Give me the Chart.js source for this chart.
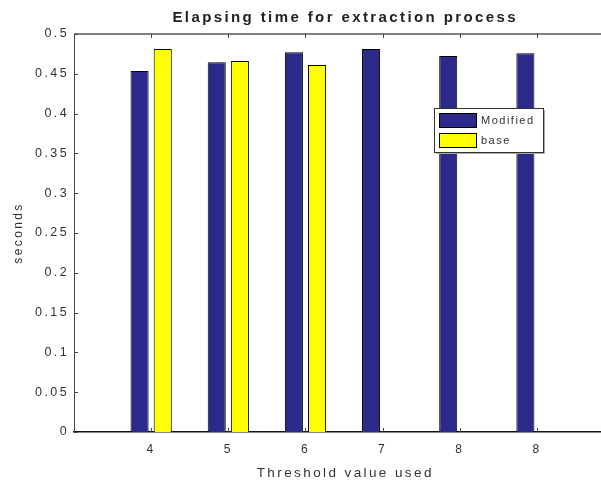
<!DOCTYPE html>
<html><head><meta charset="utf-8">
<script src="https://cdn.jsdelivr.net/npm/chart.js@4.4.1/dist/chart.umd.min.js"></script>
<style>html,body{margin:0;padding:0;background:#fff;overflow:hidden}canvas{display:block}</style>
</head><body>
<canvas id="c" width="601" height="484"></canvas>
<script>
const categories = ['4', '5', '6', '7', '8', '8'];
const modifiedValues = [0.4535, 0.4644, 0.477, 0.481, 0.4724, 0.4757];
const baseValues = [0.481, 0.466, 0.461, 0, 0, 0];
const yTickValues = [0, 0.05, 0.1, 0.15, 0.2, 0.25, 0.3, 0.35, 0.4, 0.45, 0.5];
const yTickLabels = ['0', '0.05', '0.1', '0.15', '0.2', '0.25', '0.3', '0.35', '0.4', '0.45', '0.5'];
const seriesNames = ['Modified', 'base'];
const seriesColors = ['#2b2a8a', '#ffff00'];
const titleText = 'Elapsing time for extraction process';
const xTitleText = 'Threshold value used';
const yTitleText = 'seconds';

const FONT = 'Arial, "Liberation Sans", sans-serif';
const TXT = '#333';

const toPoints = vals => vals.map((v, i) => ({ x: i + 1, y: v }));

const decor = {
  id: 'decor',
  beforeDraw(chart) { chart.ctx.letterSpacing = '2.4px'; },
  afterDraw(chart) {
    const { ctx, chartArea: a, scales } = chart;
    ctx.save();
    // centre of the full (cropped) axes: value 3.5 on the x scale
    const cx = scales.x.getPixelForValue(3.5);
    ctx.textAlign = 'center';
    ctx.textBaseline = 'middle';
    ctx.letterSpacing = '2.4px';
    ctx.fillStyle = '#222';
    ctx.font = 'bold 15px ' + FONT;
    ctx.fillText(titleText, cx + 1.2, 18);
    ctx.fillStyle = TXT;
    ctx.font = '13.5px ' + FONT;
    ctx.fillText(xTitleText, cx + 1.2, 473);
    ctx.letterSpacing = '0px';
    // top axis line
    ctx.strokeStyle = '#808080';
    ctx.lineWidth = 2;
    ctx.beginPath(); ctx.moveTo(a.left, a.top); ctx.lineTo(a.right, a.top); ctx.stroke();
    // inward ticks
    ctx.strokeStyle = '#444';
    ctx.lineWidth = 1;
    ctx.beginPath();
    yTickValues.forEach(v => {
      const y = Math.round(scales.y.getPixelForValue(v)) + 0.5;
      ctx.moveTo(a.left, y); ctx.lineTo(a.left + 4, y);
    });
    categories.forEach((c, i) => {
      const x = Math.round(scales.x.getPixelForValue(i + 1)) + 0.5;
      ctx.moveTo(x, a.top); ctx.lineTo(x, a.top + 4);
      ctx.moveTo(x, a.bottom); ctx.lineTo(x, a.bottom - 4);
    });
    ctx.stroke();
    // legend
    const lx = 434, ly = 108, lw = 109, lh = 44;
    ctx.fillStyle = '#fff';
    ctx.fillRect(lx, ly, lw, lh);
    ctx.strokeStyle = '#333';
    ctx.strokeRect(lx + 0.5, ly + 0.5, lw, lh);
    ctx.strokeStyle = '#aaa';
    ctx.beginPath(); ctx.moveTo(lx + lw + 1.5, ly + 2); ctx.lineTo(lx + lw + 1.5, ly + lh + 1.5); ctx.lineTo(lx + 2, ly + lh + 1.5); ctx.stroke();
    ctx.font = '11px ' + FONT;
    ctx.letterSpacing = '1.5px';
    ctx.textBaseline = 'middle';
    ctx.textAlign = 'left';
    chart.data.datasets.forEach((ds, i) => {
      const sy = ly + 5 + i * 20;
      ctx.fillStyle = ds.backgroundColor;
      ctx.fillRect(lx + 5, sy, 38, 15);
      ctx.strokeStyle = '#000';
      ctx.strokeRect(lx + 5.5, sy + 0.5, 37, 14);
      ctx.fillStyle = TXT;
      ctx.fillText(ds.label, lx + 47, sy + 8);
    });
    ctx.restore();
    ctx.letterSpacing = '0px';
  }
};

new Chart(document.getElementById('c'), {
  type: 'bar',
  data: {
    datasets: [
      { label: seriesNames[0], data: toPoints(modifiedValues), backgroundColor: seriesColors[0], borderColor: '#000', borderWidth: 1 },
      { label: seriesNames[1], data: toPoints(baseValues), backgroundColor: seriesColors[1], borderColor: '#000', borderWidth: 1 }
    ]
  },
  options: {
    responsive: false,
    animation: false,
    layout: { padding: { top: 34, left: 0, right: 0, bottom: 0 } },
    datasets: { bar: { categoryPercentage: 0.6, barPercentage: 0.78 } },
    plugins: {
      legend: { display: false },
      tooltip: { enabled: false },
      title: { display: false }
    },
    scales: {
      x: {
        type: 'linear', min: 0, max: 6.83, position: 'bottom', offset: false,
        grid: { display: false, drawTicks: false },
        border: { display: true, color: '#111', width: 1.5 },
        afterBuildTicks: s => { s.ticks = categories.map((c, i) => ({ value: i + 1 })); },
        afterFit: s => { s.height = 52; },
        ticks: {
          autoSkip: false, maxRotation: 0, padding: 10, color: TXT,
          font: { family: FONT, size: 12 },
          callback: v => categories[v - 1] ?? ''
        }
      },
      y: {
        min: 0, max: 0.5,
        grid: { display: false, drawTicks: false },
        border: { display: true, color: '#444', width: 1 },
        afterBuildTicks: s => { s.ticks = yTickValues.map(v => ({ value: v })); },
        afterFit: s => { s.width = 74; },
        ticks: {
          padding: 5, color: TXT,
          font: { family: FONT, size: 12.5 },
          callback: (v, i) => yTickLabels[i]
        },
        title: {
          display: true, text: yTitleText, color: TXT,
          font: { family: FONT, size: 12 },
          padding: { top: 11, bottom: 0 }
        }
      }
    }
  },
  plugins: [decor]
});
</script>
</body></html>
